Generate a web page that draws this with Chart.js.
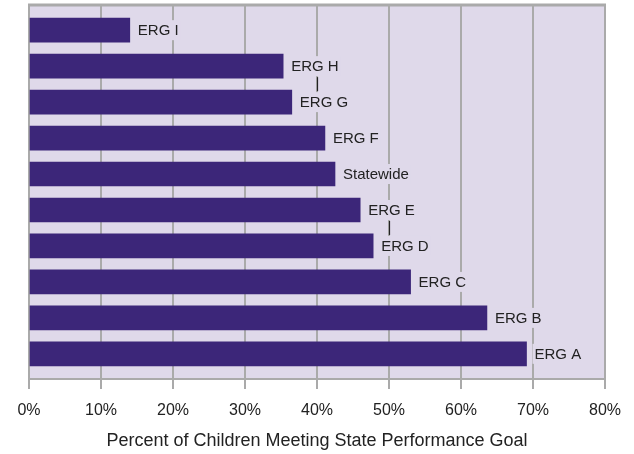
<!DOCTYPE html>
<html>
<head>
<meta charset="utf-8">
<script src="https://cdn.jsdelivr.net/npm/chart.js@4/dist/chart.umd.min.js"></script>
<style>
  html, body { margin: 0; padding: 0; background: #fff; }
  #wrap { width: 634px; height: 454px; }
</style>
</head>
<body>
<div id="wrap"><canvas id="grafico" width="634" height="454"></canvas></div>
<script>
// data, top bar first
const grupos = ["ERG I", "ERG H", "ERG G", "ERG F", "Statewide", "ERG E", "ERG D", "ERG C", "ERG B", "ERG A"];
const percentuais = [14.0, 35.3, 36.5, 41.1, 42.5, 46.0, 47.8, 53.0, 63.6, 69.1];
const ticksX = [0, 10, 20, 30, 40, 50, 60, 70, 80];
const ligados = [["ERG H", "ERG G"], ["ERG E", "ERG D"]];
const tituloX = "Percent of Children Meeting State Performance Goal";

const corFundo = "#dfd9ea";
const corBarra = "#3c2679";
const corGrade = "#aaaaaa";
const fonte = "'Liberation Sans', Arial, sans-serif";

const pontos = percentuais.map((v, i) => ({ x: v, y: i }));

const rotulos = {
  id: "rotulos",
  beforeDraw(chart) {
    const { ctx, chartArea: a } = chart;
    ctx.save();
    ctx.fillStyle = corFundo;
    ctx.fillRect(a.left, a.top, a.right - a.left, a.bottom - a.top);
    ctx.restore();
  },
  afterDatasetsDraw(chart) {
    const { ctx, chartArea: a, scales } = chart;
    const meta = chart.getDatasetMeta(0);
    const caixas = {};
    ctx.save();
    // top border
    ctx.strokeStyle = corGrade;
    ctx.lineWidth = 3;
    ctx.beginPath();
    ctx.moveTo(a.left - 1, a.top);
    ctx.lineTo(a.right + 1, a.top);
    ctx.stroke();

    ctx.font = "15px " + fonte;
    ctx.textBaseline = "middle";
    meta.data.forEach((bar, i) => {
      const txt = grupos[i];
      const x = bar.x + 8;
      const w = ctx.measureText(txt).width;
      ctx.fillStyle = corFundo;
      ctx.fillRect(x - 2, bar.y - 10, w + 4, 20);
      ctx.fillStyle = "#222";
      ctx.fillText(txt, x, bar.y + 1);
      caixas[txt] = { x0: x, x1: x + w, y: bar.y };
    });

    // little connectors between crowded labels
    ctx.strokeStyle = "#222";
    ctx.lineWidth = 1.2;
    ligados.forEach(([a1, b1]) => {
      const p = caixas[a1], q = caixas[b1];
      const meio = (Math.min(p.x0, q.x0) + Math.max(p.x1, q.x1)) / 2;
      const val = Math.round(scales.x.getValueForPixel(meio) / 10) * 10;
      const gx = Math.round(scales.x.getPixelForValue(val)) + 0.5;
      ctx.beginPath();
      ctx.moveTo(gx, p.y + 11);
      ctx.lineTo(gx, q.y - 11);
      ctx.stroke();
    });
    ctx.restore();
  }
};

new Chart(document.getElementById("grafico"), {
  type: "bar",
  data: {
    datasets: [{
      data: pontos,
      backgroundColor: corBarra,
      barThickness: 24
    }]
  },
  options: {
    indexAxis: "y",
    responsive: false,
    animation: false,
    events: [],
    layout: { padding: { left: 29, right: 29, top: 5, bottom: 0 } },
    plugins: { legend: { display: false }, tooltip: { enabled: false } },
    scales: {
      y: {
        type: "linear",
        reverse: true,
        offset: false,
        min: -0.7,
        max: 9.7,
        display: false
      },
      x: {
        type: "linear",
        min: 0,
        max: 80,
        afterBuildTicks: (s) => { s.ticks = ticksX.map(v => ({ value: v })); },
        afterFit: (s) => { s.height = 75; },
        grid: { color: corGrade, lineWidth: 2, tickLength: 10 },
        border: { color: corGrade, width: 2 },
        ticks: {
          color: "#222",
          padding: 12,
          maxRotation: 0,
          font: { family: fonte, size: 16 },
          callback: (v) => v + "%"
        },
        title: {
          display: true,
          text: tituloX,
          color: "#222",
          font: { family: fonte, size: 18 },
          padding: { top: 8, bottom: 2 }
        }
      }
    }
  },
  plugins: [rotulos]
});
</script>
</body>
</html>
